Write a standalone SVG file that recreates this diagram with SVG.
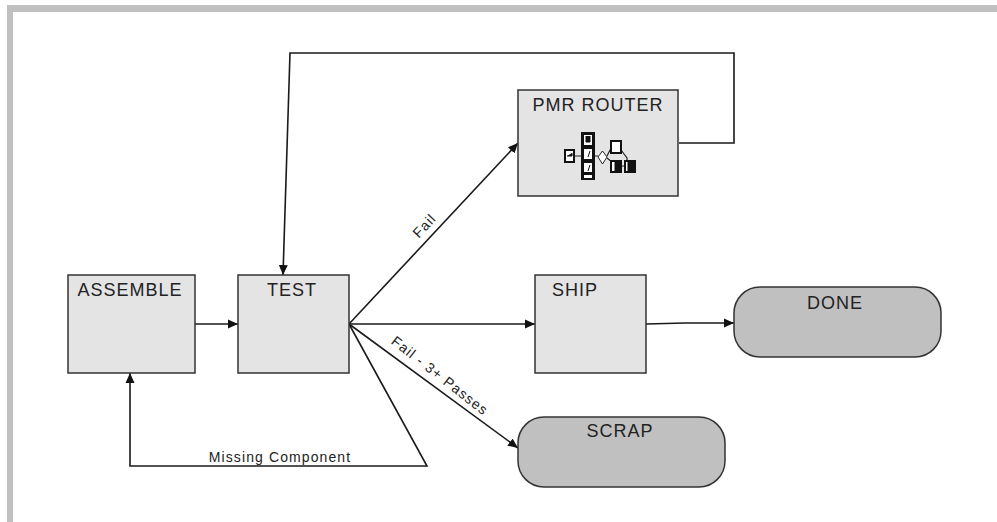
<svg xmlns="http://www.w3.org/2000/svg" width="997" height="522" viewBox="0 0 997 522">
<style>
.box{fill:#e4e4e4;stroke:#333;stroke-width:1.5}
.term{fill:#c0c0c0;stroke:#333;stroke-width:1.5}
.t{font-family:"Liberation Sans",Arial,sans-serif;font-size:18px;fill:#222;text-anchor:middle;letter-spacing:1px}
.s{font-family:"Liberation Sans",Arial,sans-serif;font-size:14px;fill:#222;text-anchor:middle;letter-spacing:1.1px}
.c{fill:none;stroke:#1a1a1a;stroke-width:1.6}
.i{fill:#fff;stroke:#111;stroke-width:2}
.k{fill:#111;stroke:#111;stroke-width:1}
.l{fill:none;stroke:#222;stroke-width:1.2}
</style>
<defs>
<marker id="a" markerUnits="userSpaceOnUse" markerWidth="11" markerHeight="10" refX="10" refY="5" orient="auto"><path d="M0 .5L10 5L0 9.500Z" fill="#111"/></marker>
</defs>
<rect id="frame" x="7" y="5" width="990" height="7" fill="#c0c0c0"/>
<rect x="7" y="5" width="6" height="517" fill="#c0c0c0"/>
<g id="connectors">
<path class="c" d="M195 324H238" marker-end="url(#a)"/>
<path class="c" d="M679 143H734V53H290L283 275" marker-end="url(#a)"/>
<path class="c" d="M349 324L518 143" marker-end="url(#a)"/>
<path class="c" d="M349 324H535" marker-end="url(#a)"/>
<path class="c" d="M646 324L685 323H734" marker-end="url(#a)"/>
<path class="c" d="M349 324L518 448" marker-end="url(#a)"/>
<path class="c" d="M349 324L427 466H130V373" marker-end="url(#a)"/>
</g>
<g id="assemble"><rect class="box" x="68" y="275" width="127" height="98"/><text class="t" x="130" y="296">ASSEMBLE</text></g>
<g id="test"><rect class="box" x="238" y="275" width="111" height="98"/><text class="t" x="292" y="296">TEST</text></g>
<g id="pmr-router"><rect class="box" x="518" y="90" width="160" height="106"/><text class="t" x="598" y="111">PMR ROUTER</text>
<path class="l" d="M574 156H582M594 156H598M607 156L610 150H621L627 158V162M607 158L612 162M621 166H624"/>
<rect class="i" x="565" y="150" width="9" height="12"/><path class="k" d="M567 156h5v-3"/>
<rect x="581" y="132" width="14" height="48" fill="#111"/>
<rect x="584" y="135" width="8" height="10" fill="#fff"/><rect x="584" y="149" width="8" height="10" fill="#fff"/><rect x="584" y="163" width="8" height="9" fill="#fff"/><rect x="584" y="175" width="8" height="3" fill="#fff"/>
<path class="k" d="M586 136V142H590V136M590 151L588 157M590 165L588 171"/>
<path d="M598 157L602.500 151L607 157L602.500 164Z" fill="#fff" stroke="#222"/>
<rect class="i" x="611" y="141" width="10" height="12"/>
<rect class="i" x="611" y="161" width="10" height="11"/><rect class="k" x="615" y="162" width="5" height="9"/>
<rect class="i" x="625" y="161" width="10" height="11"/><rect class="k" x="628" y="162" width="6" height="9"/>
</g>
<g id="ship"><rect class="box" x="535" y="275" width="111" height="98"/><text class="t" x="575" y="296">SHIP</text></g>
<g id="done"><rect class="term" x="734" y="287" width="207" height="70" rx="26"/><text class="t" x="835" y="309">DONE</text></g>
<g id="scrap"><rect class="term" x="518" y="417" width="207" height="70" rx="26"/><text class="t" x="620" y="437">SCRAP</text></g>
<g id="labels">
<text class="s" x="280" y="462">Missing Component</text>
<text class="s" transform="translate(428 229) rotate(-47)">Fail</text>
<text class="s" transform="translate(437 379.500) rotate(38)">Fail - 3+ Passes</text>
</g>
</svg>
